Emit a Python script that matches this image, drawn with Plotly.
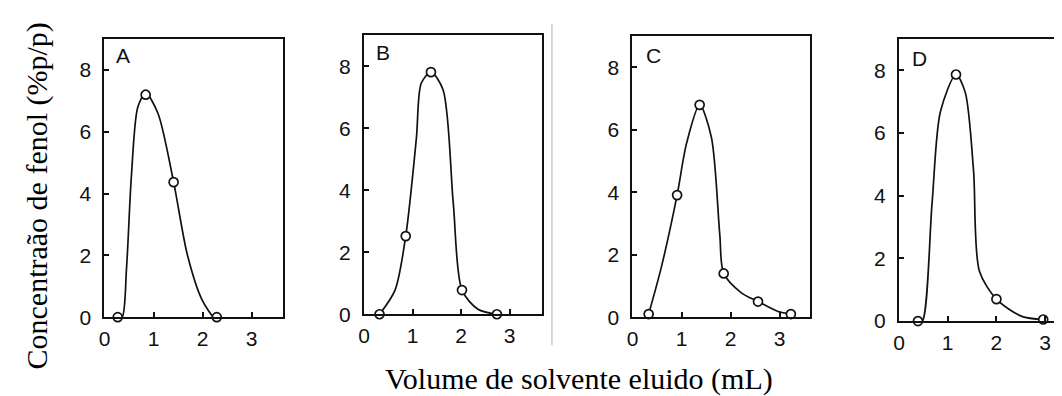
import plotly.graph_objects as go

# ---- data ----
panels = ["A", "B", "C", "D"]

# measured points (open circles)
a_x = [0.27, 0.84, 1.41, 2.29]
a_y = [0.0, 7.2, 4.37, 0.0]
b_x = [0.32, 0.86, 1.38, 2.02, 2.74]
b_y = [0.0, 2.52, 7.81, 0.78, 0.0]
c_x = [0.33, 0.91, 1.37, 1.86, 2.56, 3.23]
c_y = [0.1, 3.91, 6.8, 1.4, 0.5, 0.1]
d_x = [0.39, 1.17, 2.0, 2.96]
d_y = [0.0, 7.87, 0.7, 0.05]

# hand-drawn curves
a_cx = [0.27, 0.36, 0.45, 0.55, 0.68, 0.84, 1.09, 1.41, 1.69, 1.99, 2.23, 2.29]
a_cy = [0.0, 0.0, 1.6, 4.6, 6.8, 7.25, 6.6, 4.37, 2.02, 0.56, 0.0, 0.0]
b_cx = [0.32, 0.64, 0.86, 1.08, 1.18, 1.38, 1.63, 1.84, 2.02, 2.35, 2.74]
b_cy = [0.0, 0.78, 2.52, 5.68, 7.45, 7.81, 7.24, 3.59, 0.78, 0.16, 0.0]
c_cx = [0.33, 0.59, 0.91, 1.10, 1.37, 1.61, 1.78, 1.86, 2.22, 2.56, 2.97, 3.23]
c_cy = [0.1, 1.61, 3.91, 5.55, 6.8, 5.76, 2.65, 1.4, 0.78, 0.5, 0.18, 0.1]
d_cx = [0.39, 0.48, 0.68, 0.85, 1.17, 1.36, 1.53, 1.65, 2.0, 2.52, 2.96]
d_cy = [0.0, 0.0, 3.78, 6.68, 7.87, 7.3, 4.81, 1.6, 0.7, 0.15, 0.05]

x_ticks = [0, 1, 2, 3]
y_ticks = [0, 2, 4, 6, 8]

points = [(a_x, a_y), (b_x, b_y), (c_x, c_y), (d_x, d_y)]
curves = [(a_cx, a_cy), (b_cx, b_cy), (c_cx, c_cy), (d_cx, d_cy)]

# ---- layout geometry (pixels) ----
W, H = 1062, 396
frames = [  # left, right, top, bottom, xmax
    (91, 271, 32, 318, 3.65),
    (352, 531, 28, 315, 3.67),
    (622, 801, 29, 318, 3.63),
    (890, 1062, 32, 322, 3.51),
]
label_pos = [(110, 49), (371, 46), (643, 49), (911, 52)]

fig = go.Figure()
ink = "#111111"
tickfont = dict(family="Liberation Sans, Arial, sans-serif", size=21, color=ink)

for i, name in enumerate(panels):
    n = "" if i == 0 else str(i + 1)
    cx, cy = curves[i]
    px, py = points[i]
    fig.add_trace(go.Scatter(x=cx, y=cy, mode="lines",
                             line=dict(color=ink, width=1.7, shape="spline", smoothing=0.8),
                             xaxis="x" + n, yaxis="y" + n, showlegend=False,
                             hoverinfo="skip"))
    fig.add_trace(go.Scatter(x=px, y=py, mode="markers",
                             marker=dict(symbol="circle", size=9, color="white",
                                         line=dict(color=ink, width=1.7)),
                             cliponaxis=False,
                             xaxis="x" + n, yaxis="y" + n, showlegend=False))
    l, r, t, b, xmax = frames[i]
    last = (i == 3)
    fig.layout["xaxis" + n] = dict(
        domain=[l / W, min(r / W, 1.0)], range=[0, xmax], anchor="y" + n,
        tickvals=x_ticks, ticks="inside", ticklen=5, tickwidth=1.5, tickcolor=ink,
        showline=True, linecolor=ink, linewidth=2, mirror=True,
        ticklabelstandoff=2,
        showgrid=False, zeroline=False, tickfont=tickfont, fixedrange=True)
    fig.layout["yaxis" + n] = dict(
        domain=[1 - b / H, 1 - t / H], range=[0, 9], anchor="x" + n,
        tickvals=y_ticks, ticks="inside", ticklen=5, tickwidth=1.5, tickcolor=ink,
        showline=True, linecolor=ink, linewidth=2, mirror=not last,
        ticklabelstandoff=7,
        showgrid=False, zeroline=False, tickfont=tickfont, fixedrange=True)
    lx, ly = label_pos[i]
    fig.add_annotation(x=lx / W, y=1 - ly / H, xref="paper", yref="paper",
                       xanchor="center", yanchor="middle",
                       text=name, showarrow=False,
                       font=dict(family="Liberation Sans, Arial, sans-serif", size=21, color=ink))

# separator line between panels B and C
fig.add_shape(type="line", xref="paper", yref="paper",
              x0=541 / W, x1=541 / W, y0=1 - 347 / H, y1=1 - 16 / H,
              line=dict(color="#b0b0b0", width=1))

serif = dict(family="Liberation Serif, Times New Roman, serif", size=30, color="black")
fig.add_annotation(x=23 / W, y=1 - 193 / H, xref="paper", yref="paper",
                   xanchor="center", yanchor="middle",
                   text="Concentraão de fenol (%p/p)", textangle=-90, showarrow=False,
                   font=serif)
fig.add_annotation(x=568 / W, y=1 - 382 / H, xref="paper", yref="paper",
                   xanchor="center", yanchor="middle",
                   text="Volume de solvente eluido (mL)", showarrow=False, font=serif)

fig.update_layout(width=W, height=H, margin=dict(l=0, r=0, t=0, b=0),
                  paper_bgcolor="white", plot_bgcolor="white")

fig.write_html("out.html")
